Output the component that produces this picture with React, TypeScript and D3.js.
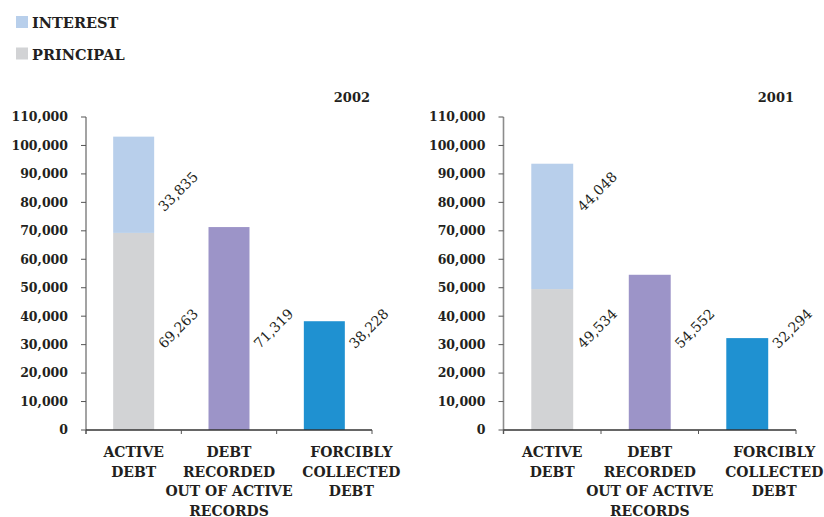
import React from "react";
import * as d3 from "d3";

// Debt overview, amounts in thousands
const years = ["2002", "2001"];
const categories = ["active", "recordedOut", "forcibly"];
const categoryLines = [
  ["ACTIVE", "DEBT"],
  ["DEBT", "RECORDED", "OUT OF ACTIVE", "RECORDS"],
  ["FORCIBLY", "COLLECTED", "DEBT"],
];
const principal = [69263, 49534];
const interest = [33835, 44048];
const recordedOut = [71319, 54552];
const forcibly = [38228, 32294];
const yTicks = [0, 10000, 20000, 30000, 40000, 50000, 60000, 70000, 80000, 90000, 100000, 110000];
const legendItems = ["INTEREST", "PRINCIPAL"];

const W = 824;
const H = 517;
const FONT = "'DejaVu Serif', serif";
const TEXT = "#231f20";
const C_INTEREST = "#b8cfeb";
const C_PRINCIPAL = "#d2d3d5";
const C_RECORDED = "#9c94c8";
const C_FORCIBLY = "#1f91d1";

const fmt = d3.format(",");

const panels = [
  { x0: 86, x1: 372 },
  { x0: 503.5, x1: 796 },
];

const y = d3.scaleLinear().domain([0, 110000]).range([430, 117]);

function Panel({ idx }: { idx: number }) {
  const { x0, x1 } = panels[idx];
  const x = d3.scaleBand<string>().domain(categories).range([x0, x1]).padding(0);
  const step = x.step();
  const barW = step * 0.43;
  const cx = (c: string) => (x(c) as number) + step / 2;

  const bars = [
    { cat: "active", lo: 0, hi: principal[idx], fill: C_PRINCIPAL },
    { cat: "active", lo: principal[idx], hi: principal[idx] + interest[idx], fill: C_INTEREST },
    { cat: "recordedOut", lo: 0, hi: recordedOut[idx], fill: C_RECORDED },
    { cat: "forcibly", lo: 0, hi: forcibly[idx], fill: C_FORCIBLY },
  ];

  // rotated value labels sit beside the bars on two rows
  const lowRow = 35650;
  const highRow = 83800;
  const labels = [
    { cat: "active", v: principal[idx], level: lowRow },
    { cat: "active", v: interest[idx], level: highRow },
    { cat: "recordedOut", v: recordedOut[idx], level: lowRow },
    { cat: "forcibly", v: forcibly[idx], level: lowRow },
  ];

  const boundaries = [x0, ...categories.map((c) => (x(c) as number) + step)];

  return (
    <g>
      {bars.map((b, i) => (
        <rect
          key={i}
          x={cx(b.cat) - barW / 2}
          width={barW}
          y={y(b.hi)}
          height={y(b.lo) - y(b.hi)}
          fill={b.fill}
        />
      ))}

      {/* y axis */}
      <line x1={x0} x2={x0} y1={y(110000)} y2={y(0) + 4} stroke="#8c8c8c" strokeWidth={1.6} />
      {yTicks.map((t) => (
        <g key={t}>
          <line x1={x0 - 5} x2={x0} y1={y(t)} y2={y(t)} stroke="#555" strokeWidth={1} />
          <text
            x={x0 - 18}
            y={y(t)}
            dy="0.35em"
            textAnchor="end"
            fontFamily={FONT}
            fontWeight="bold"
            fontSize={12.5}
            fill={TEXT}
          >
            {fmt(t)}
          </text>
        </g>
      ))}

      {/* x axis */}
      <line x1={x0} x2={x1} y1={y(0)} y2={y(0)} stroke="#333" strokeWidth={1.3} />
      {boundaries.map((bx, i) => (
        <line key={i} x1={bx} x2={bx} y1={y(0)} y2={y(0) + 4} stroke="#555" strokeWidth={1} />
      ))}

      {categories.map((c, ci) => {
        const tx = cx(c) + (ci === 2 ? 27 : 0);
        return (
          <text
            key={c}
            x={tx}
            y={457}
            textAnchor="middle"
            fontFamily={FONT}
            fontWeight="bold"
            fontSize={14}
            fill={TEXT}
          >
            {categoryLines[ci].map((line, li) => (
              <tspan key={li} x={tx} dy={li === 0 ? 0 : 19.7}>
                {line}
              </tspan>
            ))}
          </text>
        );
      })}

      {labels.map((l, i) => {
        const lx = cx(l.cat) + barW / 2 + 24;
        const ly = y(l.level);
        return (
          <text
            key={i}
            transform={`translate(${lx},${ly}) rotate(-45)`}
            textAnchor="middle"
            dy="0.35em"
            fontFamily={FONT}
            fontSize={14}
            fill={TEXT}
          >
            {fmt(l.v)}
          </text>
        );
      })}

      <text
        x={x1 - 2}
        y={102}
        textAnchor="end"
        fontFamily={FONT}
        fontWeight="bold"
        fontSize={13}
        fill={TEXT}
      >
        {years[idx]}
      </text>
    </g>
  );
}

export default function App() {
  const legendColors = [C_INTEREST, C_PRINCIPAL];
  return (
    <svg
      width={W}
      height={H}
      viewBox={`0 0 ${W} ${H}`}
      style={{ position: "absolute", left: 0, top: 0, background: "#fff" }}
    >
      <rect width={W} height={H} fill="#fff" />
      {legendItems.map((name, i) => (
        <g key={name} transform={`translate(16,${16 + i * 31.5})`}>
          <rect width={12} height={12} fill={legendColors[i]} />
          <text x={16} y={12} fontFamily={FONT} fontWeight="bold" fontSize={14.5} fill={TEXT}>
            {name}
          </text>
        </g>
      ))}
      <Panel idx={0} />
      <Panel idx={1} />
    </svg>
  );
}
